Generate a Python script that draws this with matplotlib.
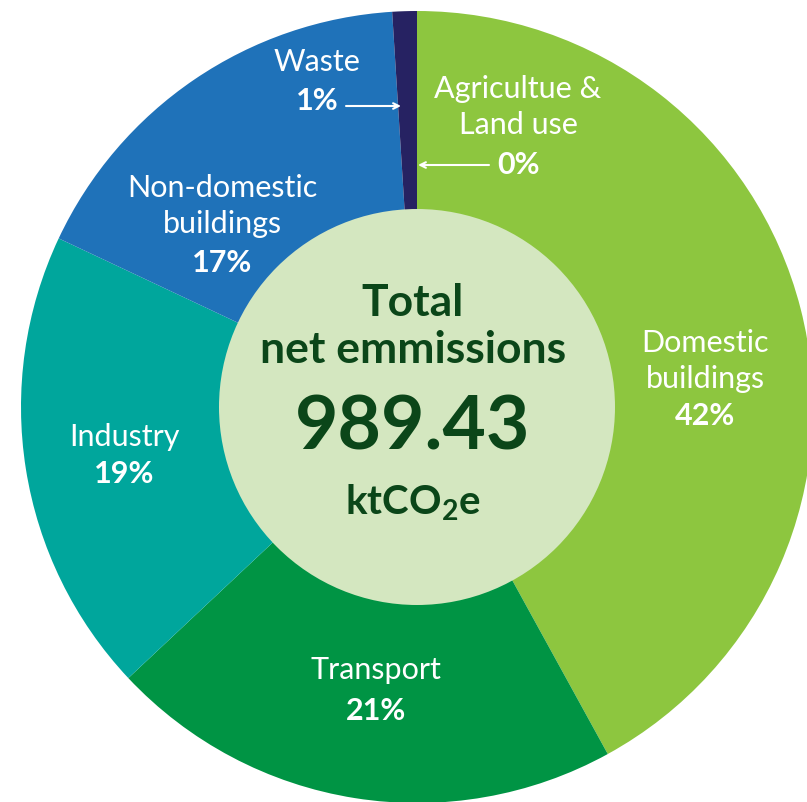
import matplotlib.pyplot as plt
from matplotlib.patches import Circle

# --- Данные ---
sectors = ["Agricultue &\nLand use", "Domestic\nbuildings", "Transport",
           "Industry", "Non-domestic\nbuildings", "Waste"]
shares = [0, 42, 21, 19, 17, 1]
colors = ["#8DC63F", "#8DC63F", "#009444", "#00A69C", "#1F72B9", "#262262"]
total = "989.43"
unit = "ktCO$_2$e"

# --- Геометрия (в пикселях картинки) ---
W, H = 807, 802
cx, cy = 417, H - 407
R_OUT, R_IN = 396, 198

FONT = ["Lato", "DejaVu Sans"]
TXT_DARK = "#0B4619"

fig = plt.figure(figsize=(W / 100, H / 100), dpi=100)
ax = fig.add_axes([0, 0, 1, 1])

ax.pie(shares, colors=colors, startangle=90, counterclock=False,
       center=(cx, cy), radius=R_OUT, frame=True,
       wedgeprops=dict(linewidth=0))
ax.set_xlim(0, W)
ax.set_ylim(0, H)
ax.set_aspect("equal")
ax.axis("off")

ax.add_patch(Circle((cx, cy), R_IN, facecolor="#D4E7C0", edgecolor="none", zorder=3))

# подписи секторов: x, y имени, y процента
label_pos = {
    "Agricultue &\nLand use": (518, 107, 165),
    "Domestic\nbuildings": (705, 361, 416),
    "Transport": (376, 670, 711),
    "Industry": (124, 437, 474),
    "Non-domestic\nbuildings": (222, 206, 263),
    "Waste": (317, 62, 101),
}
for name, val in zip(sectors, shares):
    x, yn, yp = label_pos[name]
    ax.text(x, H - yn, name, ha="center", va="center", color="white",
            fontsize=22, family=FONT, linespacing=1.36, zorder=5)
    ax.text(x, H - yp, f"{val}%", ha="center", va="center", color="white",
            fontsize=22, fontweight="bold", family=FONT, zorder=5)

# стрелки к маленьким секторам
arrow = dict(arrowstyle="->", color="white", lw=1.5, shrinkA=0, shrinkB=0)
ax.annotate("", xy=(401, H - 106), xytext=(346, H - 106), arrowprops=arrow, zorder=6)
ax.annotate("", xy=(418, H - 165), xytext=(489, H - 165), arrowprops=arrow, zorder=6)

# центр
plt.rcParams["mathtext.default"] = "regular"
ax.text(cx - 4, H - 303, "Total", ha="center", va="center", color=TXT_DARK,
        fontsize=32, fontweight="bold", family=FONT, zorder=5)
ax.text(cx - 4, H - 350, "net emmissions", ha="center", va="center", color=TXT_DARK,
        fontsize=32, fontweight="bold", family=FONT, zorder=5)
ax.text(cx - 4, H - 428, total, ha="center", va="center", color=TXT_DARK,
        fontsize=54, fontweight="bold", family=FONT, zorder=5)
ax.text(cx - 4, H - 503, unit, ha="center", va="center", color=TXT_DARK,
        fontsize=29, fontweight="bold", family=FONT, zorder=5)

fig.savefig("out.png", dpi=100, facecolor="white")
